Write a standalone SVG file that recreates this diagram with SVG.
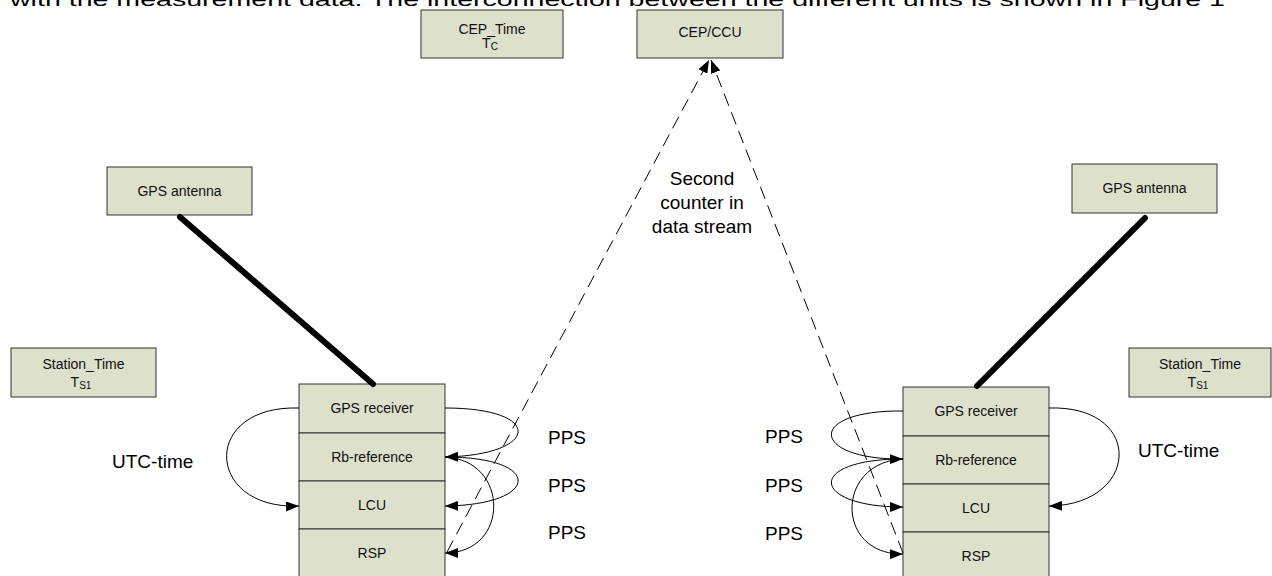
<svg xmlns="http://www.w3.org/2000/svg" width="1272" height="576" viewBox="0 0 1272 576">
<style>
.box{fill:#dde0cb;stroke:#333;stroke-width:1}
.t{font-family:"Liberation Sans",Arial,sans-serif;font-size:14px;fill:#111;text-anchor:middle}
.lbl{font-family:"Liberation Sans",Arial,sans-serif;font-size:19px;fill:#000}
.thick{stroke:#000;stroke-width:6;stroke-linecap:round;fill:none}
.arc{stroke:#000;stroke-width:1;fill:none;marker-end:url(#ah)}
.dash{stroke:#000;stroke-width:1;fill:none;stroke-dasharray:13,7;marker-end:url(#ah)}
</style>
<defs>
<marker id="ah" markerUnits="userSpaceOnUse" markerWidth="14" markerHeight="10" refX="13" refY="5" orient="auto">
<path d="M0,0 L13,5 L0,10 z" fill="#000"/>
</marker>
</defs>
<rect width="1272" height="576" fill="#fff"/>
<text class="lbl" x="10" y="6" font-size="25" textLength="1215" lengthAdjust="spacingAndGlyphs">with the measurement data. The interconnection between the different units is shown in Figure 1</text>

<g id="cep-time"><rect class="box" x="421" y="10" width="142" height="48"/><text class="t" x="492" y="34">CEP_Time</text><text class="t" x="490" y="48">T<tspan font-size="10" dy="2">C</tspan></text></g>
<g id="cep-ccu"><rect class="box" x="637" y="10" width="146" height="48"/><text class="t" x="710" y="37">CEP/CCU</text></g>

<g id="gps-antenna-left"><rect class="box" x="107" y="167" width="145" height="48"/><text class="t" x="179.5" y="196">GPS antenna</text></g>
<g id="gps-antenna-right"><rect class="box" x="1072" y="164" width="145" height="49"/><text class="t" x="1144.5" y="193">GPS antenna</text></g>

<g id="station-time-left"><rect class="box" x="11" y="348" width="145" height="49"/><text class="t" x="83.5" y="369">Station_Time</text><text class="t" x="81" y="387">T<tspan font-size="10" dy="2">S1</tspan></text></g>
<g id="station-time-right"><rect class="box" x="1129" y="348" width="142" height="49"/><text class="t" x="1200" y="369">Station_Time</text><text class="t" x="1198" y="387">T<tspan font-size="10" dy="2">S1</tspan></text></g>

<g id="left-gps-receiver"><rect class="box" x="299" y="384" width="146" height="49"/><text class="t" x="372" y="413">GPS receiver</text></g>
<g id="left-rb-reference"><rect class="box" x="299" y="433" width="146" height="48"/><text class="t" x="372" y="462">Rb-reference</text></g>
<g id="left-lcu"><rect class="box" x="299" y="481" width="146" height="48"/><text class="t" x="372" y="510">LCU</text></g>
<g id="left-rsp"><rect class="box" x="299" y="529" width="146" height="50"/><text class="t" x="372" y="558">RSP</text></g>

<g id="right-gps-receiver"><rect class="box" x="903" y="387" width="146" height="49"/><text class="t" x="976" y="416">GPS receiver</text></g>
<g id="right-rb-reference"><rect class="box" x="903" y="436" width="146" height="48"/><text class="t" x="976" y="465">Rb-reference</text></g>
<g id="right-lcu"><rect class="box" x="903" y="484" width="146" height="48"/><text class="t" x="976" y="513">LCU</text></g>
<g id="right-rsp"><rect class="box" x="903" y="532" width="146" height="50"/><text class="t" x="976" y="561">RSP</text></g>

<g id="connectors">
<line class="thick" x1="180" y1="217" x2="373" y2="384"/>
<line class="thick" x1="1145" y1="218" x2="977" y2="386"/>
<path class="dash" d="M447,552 L709,60"/>
<path class="dash" d="M903,553 L711,60"/>
<path class="arc" d="M299,408 C200,405 205,510 299,506"/>
<path class="arc" d="M1049,408 C1145,405 1140,505 1049,506"/>
<path class="arc" d="M445,408 C545,408 540,455 445,457"/>
<path class="arc" d="M445,457 C545,457 540,505 445,506"/>
<path class="arc" d="M445,457 C510,460 510,553 445,553"/>
<path class="arc" d="M903,411 C805,410 810,460 903,459"/>
<path class="arc" d="M903,459 C805,459 810,507 903,507"/>
<path class="arc" d="M903,459 C835,462 835,555 903,554"/>
</g>

<g id="labels">
<text class="lbl" x="112" y="468">UTC-time</text>
<text class="lbl" x="1138" y="457">UTC-time</text>
<text class="lbl" x="548" y="444">PPS</text>
<text class="lbl" x="548" y="492">PPS</text>
<text class="lbl" x="548" y="539">PPS</text>
<text class="lbl" x="765" y="443">PPS</text>
<text class="lbl" x="765" y="492">PPS</text>
<text class="lbl" x="765" y="540">PPS</text>
<text class="lbl" x="702" y="185" text-anchor="middle">Second</text>
<text class="lbl" x="702" y="209" text-anchor="middle">counter in</text>
<text class="lbl" x="702" y="233" text-anchor="middle">data stream</text>
</g>
</svg>
